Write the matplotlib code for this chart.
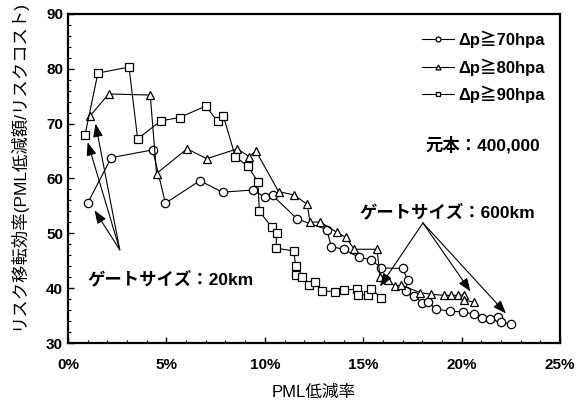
import matplotlib
matplotlib.use('Agg')
import matplotlib.pyplot as plt
from matplotlib.ticker import MultipleLocator, PercentFormatter

plt.rcParams['font.family'] = ['Liberation Sans', 'Noto Sans CJK JP', 'DejaVu Sans']
plt.rcParams['font.weight'] = 'bold'

# PML低減率 (%) / リスク移転効率
x70 = [1.0, 2.2, 4.3, 4.95, 6.7, 7.85, 9.4, 10.0, 10.4, 11.65, 13.15, 13.37, 14.0, 14.8, 15.4, 15.9,
       17.0, 17.25, 17.15, 17.6, 18.0, 18.3, 18.7, 19.4, 20.05, 20.6, 21.05, 21.45, 21.85, 22.0, 22.5]
y70 = [55.5, 63.8, 65.2, 55.5, 59.6, 57.5, 57.9, 56.6, 56.9, 52.6, 50.7, 47.6, 47.1, 45.6, 45.2, 43.7,
       43.6, 41.5, 39.5, 38.6, 37.3, 37.5, 36.2, 35.8, 35.7, 35.3, 34.6, 34.4, 34.7, 33.9, 33.4]

x80 = [1.1, 2.07, 4.18, 4.5, 6.05, 7.05, 8.6, 9.2, 9.55, 10.7, 11.48, 12.15, 12.3, 12.8, 13.65, 14.1,
       14.55, 15.7, 15.85, 16.25, 16.6, 16.9, 17.9, 18.45, 19.1, 19.45, 19.8, 20.1, 20.1, 20.65]
y80 = [71.3, 75.4, 75.2, 60.9, 65.4, 63.6, 65.4, 64.0, 65.0, 57.6, 57.0, 55.3, 52.0, 52.1, 50.2, 49.3,
       47.1, 47.1, 42.1, 41.5, 40.4, 40.6, 39.2, 38.9, 38.7, 38.7, 38.7, 38.8, 37.8, 37.5]

x90 = [0.87, 1.52, 3.1, 3.54, 4.71, 5.67, 7.0, 7.6, 7.9, 8.5, 9.14, 9.65, 9.72, 10.34, 10.6, 10.57,
       11.46, 11.58, 11.6, 11.9, 12.26, 12.56, 12.9, 13.57, 14.0, 14.66, 14.75, 15.25, 15.4, 15.9]
y90 = [68.0, 79.2, 80.3, 67.2, 70.5, 71.1, 73.2, 70.4, 71.3, 64.0, 62.2, 59.4, 54.0, 51.2, 50.0, 47.3,
       46.8, 44.0, 42.4, 42.0, 40.6, 41.2, 39.5, 39.4, 39.7, 39.8, 38.8, 38.8, 39.8, 38.3]

labels = ['Δp≧70hpa', 'Δp≧80hpa', 'Δp≧90hpa']

fig = plt.figure(figsize=(5.79, 4.07), dpi=100)
ax = fig.add_axes([0.1174, 0.157, 0.85, 0.809])

style = dict(color='black', lw=0.8, mfc='white', mec='black', mew=0.9, ms=6)
ax.plot(x70, y70, marker='o', label=labels[0], **style)
ax.plot(x80, y80, marker='^', label=labels[1], **style)
ax.plot(x90, y90, marker='s', label=labels[2], **style)

ax.set_xlim(0, 25)
ax.set_ylim(30, 90)
ax.xaxis.set_major_locator(MultipleLocator(5))
ax.xaxis.set_minor_locator(MultipleLocator(1))
ax.yaxis.set_major_locator(MultipleLocator(10))
ax.yaxis.set_minor_locator(MultipleLocator(2))
ax.xaxis.set_major_formatter(PercentFormatter(decimals=0))
ax.tick_params(which='both', direction='in', top=False, right=False, labelsize=11)
ax.tick_params(which='major', length=4, width=1)
ax.tick_params(which='minor', length=2.5, width=0.8)
ax.tick_params(axis='x', pad=11)
for s in ax.spines.values():
    s.set_linewidth(1.6)

ax.set_xlabel('PML低減率', fontsize=12, labelpad=9)
ax.set_ylabel('リスク移転効率(PML低減額/リスクコスト)', fontsize=12.5, labelpad=4)
ax.yaxis.set_label_coords(-0.085, 0.54)

leg = ax.legend(loc='upper right', frameon=False, fontsize=12, markerscale=0.6,
                handlelength=1.9, handletextpad=0.3, labelspacing=0.62,
                bbox_to_anchor=(1.0, 0.995))

ax.text(24.0, 66.1, '元本：400,000', ha='right', va='center', fontsize=12.5)

# ゲートサイズ 20km
ax.text(1.0, 41.7, 'ゲートサイズ：20km', ha='left', va='center', fontsize=12.5)
arr = dict(arrowstyle='-|>,head_length=0.8,head_width=0.3', color='black', lw=0.8,
           shrinkA=0, shrinkB=0)
for tx, ty in [(1.35, 54.2), (1.0, 66.6), (1.4, 70.0)]:
    ax.annotate('', xy=(tx, ty), xytext=(2.63, 47.0), arrowprops=arr)

# ゲートサイズ 600km
ax.text(14.8, 53.9, 'ゲートサイズ：600km', ha='left', va='center', fontsize=12.5)
for tx, ty in [(15.85, 40.3), (20.45, 39.4), (22.25, 35.4)]:
    ax.annotate('', xy=(tx, ty), xytext=(18.03, 51.9), arrowprops=arr)

fig.savefig('out.png', dpi=100)
